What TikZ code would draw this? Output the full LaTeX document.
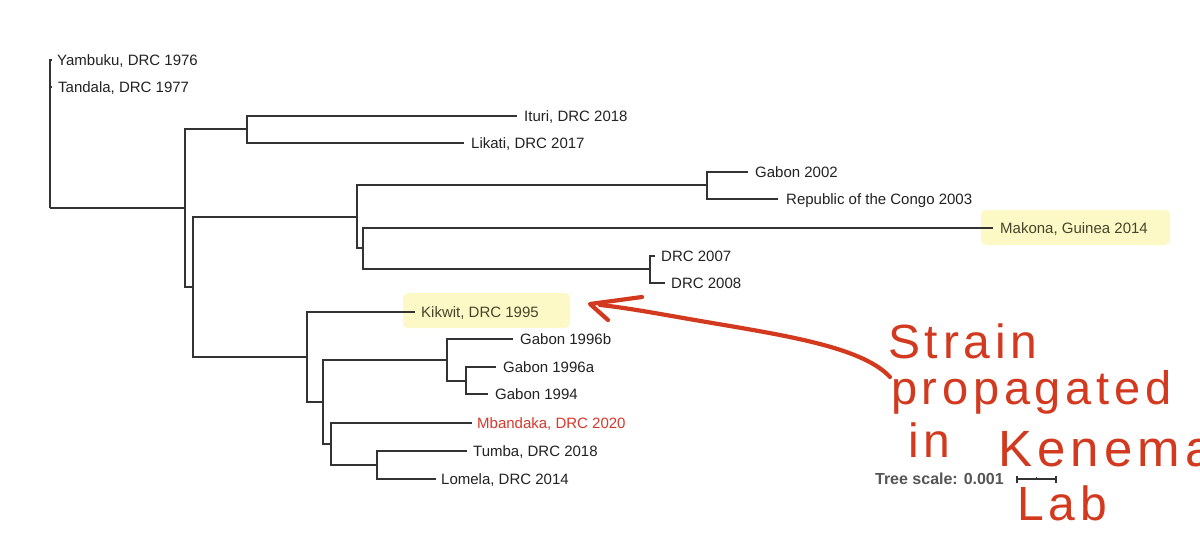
\documentclass[tikz,border=0pt]{standalone}
\usepackage{fontspec}
\setmainfont{Liberation Sans}
\newfontfamily\handfont[LetterSpace=10]{Liberation Sans}
\newfontfamily\scalefont{Liberation Sans Bold}
\usetikzlibrary{calc}
\definecolor{branch}{HTML}{333333}
\definecolor{labeltext}{HTML}{222222}
\definecolor{hilite}{HTML}{FCF9C6}
\definecolor{hitext}{HTML}{46452A}
\definecolor{redlabel}{HTML}{D9382C}
\definecolor{ink}{HTML}{D2391E}
\definecolor{scalegray}{HTML}{555555}
\tikzset{
  leaf/.style={anchor=west, inner sep=0pt, text height=10.7pt, text depth=0pt,
    font=\fontsize{15}{18}\selectfont, text=labeltext},
  hileaf/.style={leaf, text=hitext},
  redleaf/.style={leaf, text=redlabel},
  edge/.style={draw=branch, line width=1.3pt},
  hibox/.style={fill=hilite, rounded corners=5pt},
  hand/.style={anchor=base west, inner sep=0pt, text=ink,
    font=\handfont\fontsize{48}{50}\selectfont},
  handline/.style={draw=ink, line width=4.2pt, line cap=round, line join=round},
}
\begin{document}
\begin{tikzpicture}[x=1pt,y=-1pt]
\useasboundingbox (0,0) rectangle (1200,549);
\fill[white] (0,0) rectangle (1200,549);

% highlights
\fill[hibox] (403,293) rectangle (570,328);
\fill[hibox] (981,210) rectangle (1170,245);

% leaves
\node[leaf] (yam) at (57,60) {Yambuku, DRC 1976};
\node[leaf] (tan) at (58,87) {Tandala, DRC 1977};
\node[leaf] (itu) at (524,116) {Ituri, DRC 2018};
\node[leaf] (lik) at (471,143) {Likati, DRC 2017};
\node[leaf] (gab02) at (755,172) {Gabon 2002};
\node[leaf] (roc) at (786,199) {Republic of the Congo 2003};
\node[hileaf] (mak) at (1000,228) {Makona, Guinea 2014};
\node[leaf] (drc07) at (661,256) {DRC 2007};
\node[leaf] (drc08) at (671,283) {DRC 2008};
\node[hileaf] (kik) at (421,312) {Kikwit, DRC 1995};
\node[leaf] (gab96b) at (520,339) {Gabon 1996b};
\node[leaf] (gab96a) at (503,367) {Gabon 1996a};
\node[leaf] (gab94) at (495,394) {Gabon 1994};
\node[redleaf] (mba) at (477,423) {Mbandaka, DRC 2020};
\node[leaf] (tum) at (473,451) {Tumba, DRC 2018};
\node[leaf] (lom) at (441,479) {Lomela, DRC 2014};

% internal nodes (x of node, y where it joins its parent)
\coordinate (R) at (50,208);
\coordinate (A) at (185,208);
\coordinate (B) at (247,129);
\coordinate (C) at (193,287);
\coordinate (D) at (357,217);
\coordinate (E) at (707,185);
\coordinate (F) at (363,248);
\coordinate (G) at (650,269);
\coordinate (H) at (307,357);
\coordinate (I) at (323,402);
\coordinate (J) at (447,360);
\coordinate (K) at (466,381);
\coordinate (L) at (331,444);
\coordinate (M) at (377,465);

% branches
\draw[edge] (R) |- ([xshift=-5pt]yam.west);
\draw[edge] (R) |- ([xshift=-6pt]tan.west);
\draw[edge] (R) -- (A);
\draw[edge] (A) |- (B);
\draw[edge] (A) |- (C);
\draw[edge] (B) |- ([xshift=-7pt]itu.west);
\draw[edge] (B) |- ([xshift=-7pt]lik.west);
\draw[edge] (C) |- (D);
\draw[edge] (C) |- (H);
\draw[edge] (D) |- (E);
\draw[edge] (D) |- (F);
\draw[edge] (E) |- ([xshift=-7pt]gab02.west);
\draw[edge] (E) |- ([xshift=-8pt]roc.west);
\draw[edge] (F) |- ([xshift=-7pt]mak.west);
\draw[edge] (F) |- (G);
\draw[edge] (G) |- ([xshift=-6pt]drc07.west);
\draw[edge] (G) |- ([xshift=-6pt]drc08.west);
\draw[edge] (H) |- ([xshift=-6pt]kik.west);
\draw[edge] (H) |- (I);
\draw[edge] (I) |- (J);
\draw[edge] (I) |- (L);
\draw[edge] (J) |- ([xshift=-7pt]gab96b.west);
\draw[edge] (J) |- (K);
\draw[edge] (K) |- ([xshift=-7pt]gab96a.west);
\draw[edge] (K) |- ([xshift=-7pt]gab94.west);
\draw[edge] (L) |- ([xshift=-5pt]mba.west);
\draw[edge] (L) |- (M);
\draw[edge] (M) |- ([xshift=-6pt]tum.west);
\draw[edge] (M) |- ([xshift=-5pt]lom.west);

% tree scale
\node[anchor=east, inner sep=0pt, text height=11pt, text depth=0pt, text=scalegray,
  font=\scalefont\fontsize{16}{18}\selectfont] (scale) at (1004,479) {Tree scale: 0.001};
\coordinate (sb1) at (1017,479);
\coordinate (sb2) at (1056,479);
\draw[draw=branch, line width=1.1pt] (sb1) -- (sb2);
\draw[draw=branch, line width=1.1pt] ([yshift=-3.5pt]sb1) -- ([yshift=3.5pt]sb1);
\draw[draw=branch, line width=1.1pt] ([yshift=-3.5pt]sb2) -- ([yshift=3.5pt]sb2);
\draw[draw=branch, line width=0.9pt] ($(sb1)!0.5!(sb2)$) -- ++(0,-2.5);

% handwritten annotation
\node[hand] (w1) at (888,358) {Strain};
\node[hand, font=\handfont\fontsize{47}{50}\selectfont] (w2) at (891,404) {propagated};
\node[hand] (w3) at (908,457) {in};
\node[hand, font=\handfont\fontsize{51}{54}\selectfont] (w4) at (998,466) {Kenema};
\node[hand] (w5) at (1017,520) {Lab};

\coordinate (arrtail) at (890,377);
\coordinate (arrtip) at (590,304);
\draw[handline] (arrtail) .. controls (865,350) and (800,338) .. (730,326)
  .. controls (670,316) and (630,308) .. (600,305);
\draw[handline] (642,297) -- (arrtip) -- (608,320);
\end{tikzpicture}
\end{document}
